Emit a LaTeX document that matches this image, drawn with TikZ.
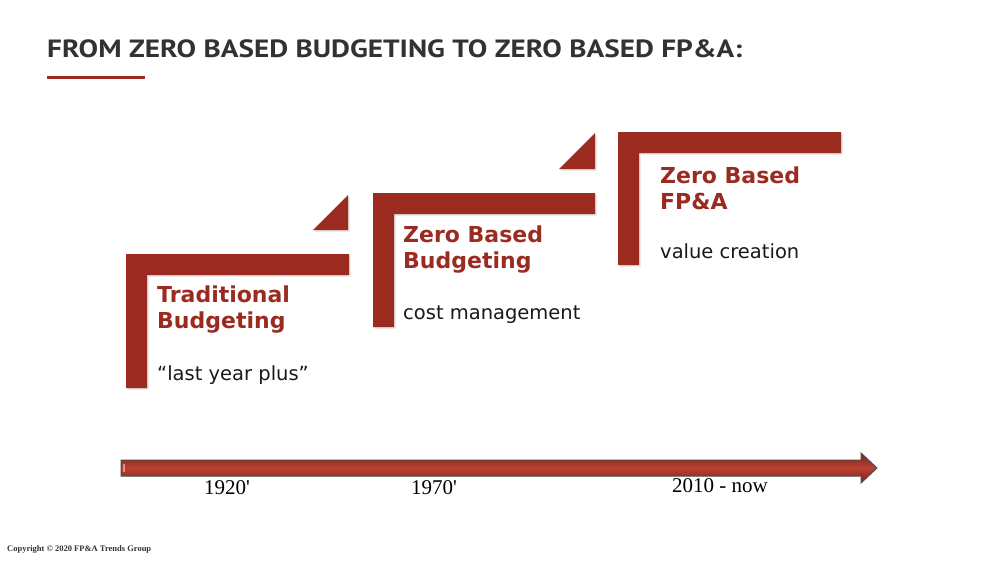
\documentclass[tikz,border=0pt]{standalone}
\usepackage{fontspec}
\setmainfont{DejaVu Sans}
\newfontfamily\titlefont{PT Sans}
\newfontfamily\yearfont{Liberation Serif}
\usetikzlibrary{shadows}
\definecolor{brick}{RGB}{155,43,32}
\definecolor{brickdark}{RGB}{130,34,25}
\definecolor{brickhi}{RGB}{185,65,50}
\definecolor{titlegray}{RGB}{50,50,50}
\definecolor{textblack}{RGB}{25,25,25}
\begin{document}
\begin{tikzpicture}[x=1pt,y=-1pt,
  barfill/.style={fill=brick, draw=none, drop shadow={shadow xshift=1.5pt, shadow yshift=-1.5pt, opacity=0.25}},
  heading/.style={anchor=base west, inner sep=0pt, text=brick, font=\fontsize{22}{26}\selectfont\bfseries, align=left},
  subtext/.style={anchor=base west, inner sep=0pt, text=textblack, font=\fontsize{19.5}{23}\selectfont},
  year/.style={anchor=base, inner sep=0pt, text=black, font=\yearfont\fontsize{21}{24}\selectfont},
]
\useasboundingbox (0,0) rectangle (1000,563);
\fill[white] (0,0) rectangle (1000,563);

% title
\node[anchor=south west, inner sep=0pt, text=titlegray] (title) at (47,58.5) {\resizebox{695pt}{17.8pt}{\titlefont\bfseries FROM ZERO BASED BUDGETING TO ZERO BASED FP\&A:}};
\fill[brick] (47,76) rectangle (145,78.5);

% L shapes
\path[barfill] (126,254) -- (349,254) -- (349,275) -- (147,275) -- (147,388) -- (126,388) -- cycle;
\path[barfill] (313,230) -- (348,195) -- (348,230) -- cycle;
\path[barfill] (373,193) -- (595,193) -- (595,214) -- (394,214) -- (394,327) -- (373,327) -- cycle;
\path[barfill] (559,169) -- (595,133) -- (595,169) -- cycle;
\path[barfill] (618,132) -- (841,132) -- (841,153) -- (639,153) -- (639,265) -- (618,265) -- cycle;

% texts
\node[heading] (h1) at (157,328) {Traditional\\Budgeting};
\node[subtext] (s1) at (157,380) {“last year plus”};
\node[heading] (h2) at (403,268) {Zero Based\\Budgeting};
\node[subtext] (s2) at (403,319) {cost management};
\node[heading] (h3) at (660,209) {Zero Based\\FP\&A};
\node[subtext] (s3) at (660,258) {value creation};

% timeline arrow
\coordinate (tstart) at (121,468);
\coordinate (tend) at (877,468);
\shade[top color=brickdark, bottom color=brickdark, middle color=brickhi, draw=gray!60!black, line width=1pt]
  (121,460) -- (861,460) -- (861,453) -- (877,468) -- (861,483) -- (861,476) -- (121,476) -- cycle;
\fill[white, opacity=0.45] (123,464) rectangle (125,472);

\node[year] (y1) at (227,494) {1920'};
\node[year] (y2) at (434,494) {1970'};
\node[year] (y3) at (720,492) {2010 - now};

\node[anchor=base west, inner sep=0pt, text=gray!40!black, font=\yearfont\fontsize{8.5}{10}\selectfont\bfseries] (copy) at (7,551) {Copyright © 2020 FP\&A Trends Group};
\end{tikzpicture}
\end{document}
